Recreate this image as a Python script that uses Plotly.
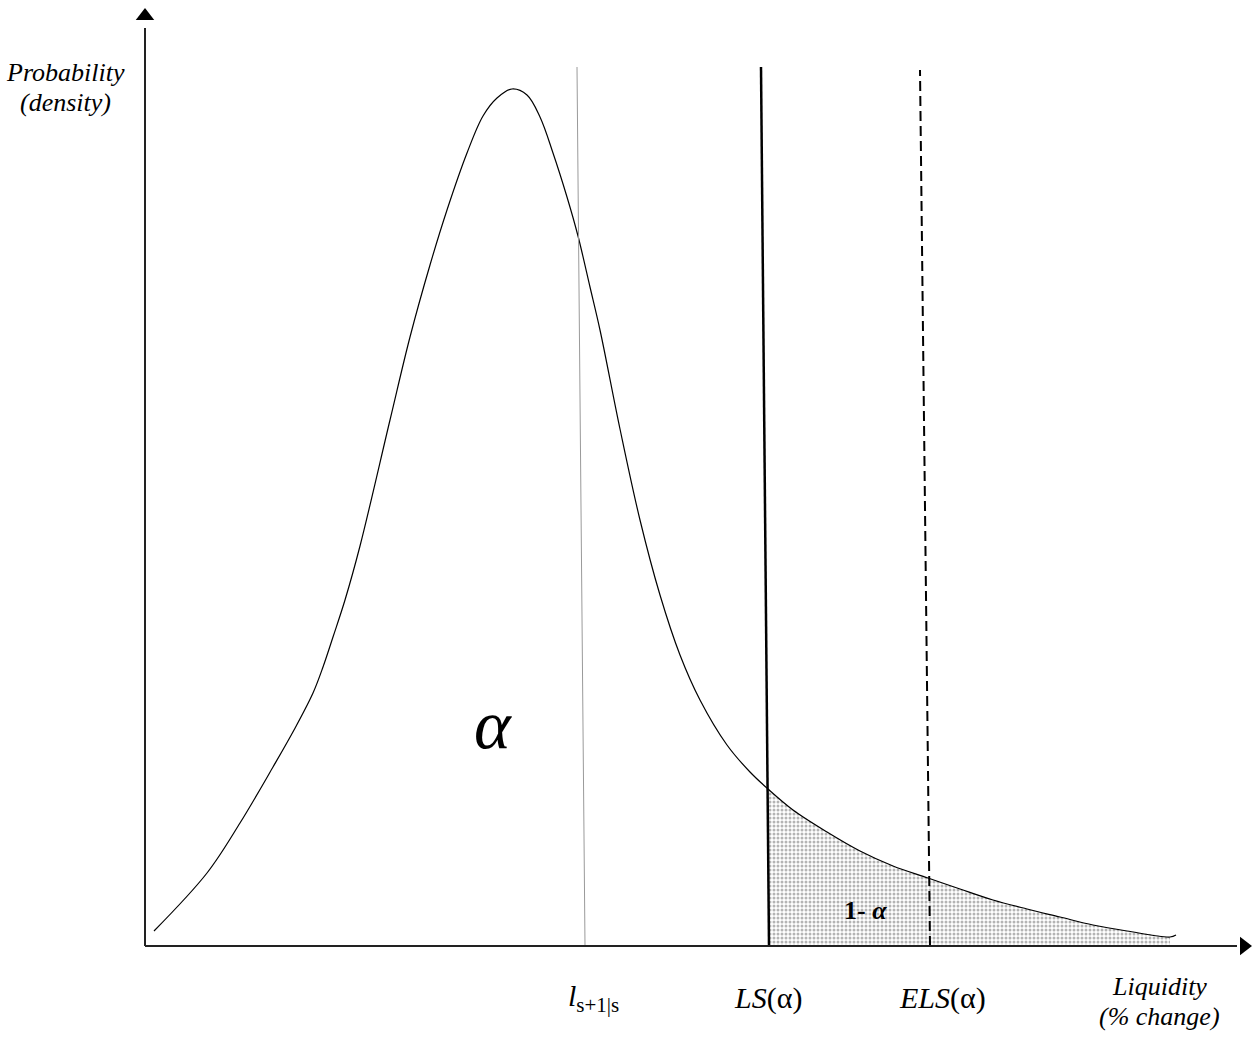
import numpy as np
import plotly.graph_objects as go

# ---- data (schematic density of liquidity change) ----
curve_x = [0.09, 0.62, 0.95, 1.28, 1.49, 1.68, 1.78, 1.88, 2.00, 2.15, 2.45, 2.65, 2.85, 3.02,
           3.22, 3.38, 3.52, 3.67, 3.82, 3.95, 4.08, 4.22, 4.33, 4.45, 4.55, 4.75, 4.95, 5.15,
           5.35, 5.55, 5.82, 6.05, 6.23, 6.48, 6.82, 7.15, 7.48, 7.83, 8.15, 8.48, 8.82, 9.15,
           9.48, 9.82, 10.25, 10.31]
curve_y = [0.015, 0.073, 0.123, 0.179, 0.216, 0.253, 0.279, 0.309, 0.346, 0.400, 0.526, 0.609,
           0.681, 0.736, 0.793, 0.830, 0.848, 0.857, 0.851, 0.829, 0.793, 0.749, 0.710, 0.659,
           0.616, 0.517, 0.426, 0.351, 0.291, 0.246, 0.201, 0.174, 0.157, 0.136, 0.114, 0.095,
           0.080, 0.068, 0.057, 0.046, 0.037, 0.029, 0.021, 0.015, 0.009, 0.011]

marker_names = ["l_s+1|s", "LS(alpha)", "ELS(alpha)"]
marker_x_bottom = [4.40, 6.24, 7.85]
marker_x_top = [4.32, 6.16, 7.75]
marker_y_top = [0.879, 0.879, 0.876]

x_axis_end = 11.07
y_axis_end = 0.938

FONT = "Liberation Serif, Times New Roman, serif"

fig = go.Figure()

cx = np.array(curve_x)
cy = np.array(curve_y)

# shaded tail (1 - alpha)
ls_b = marker_x_bottom[1]
mask = (cx >= 6.2) & (cx <= 10.25)
tail_x = [ls_b] + list(cx[mask]) + [cx[mask][-1], ls_b]
tail_y = [0.0] + list(cy[mask]) + [0.0, 0.0]
fig.add_trace(go.Scatter(
    x=tail_x, y=tail_y, mode="lines", fill="toself",
    line=dict(width=0, color="rgba(0,0,0,0)"),
    fillcolor="rgba(255,255,255,0)",
    fillpattern=dict(shape=".", fgcolor="#6a6a6a", bgcolor="white", size=4, solidity=0.45),
    hoverinfo="skip", showlegend=False))

# density curve
fig.add_trace(go.Scatter(x=curve_x, y=curve_y, mode="lines",
                         line=dict(color="black", width=1.2, shape="spline", smoothing=1.0),
                         hoverinfo="skip", showlegend=False))

# vertical markers
styles = [dict(color="#9a9a9a", width=1, dash="solid"),
          dict(color="black", width=2.5, dash="solid"),
          dict(color="black", width=2, dash="10px,5px")]
for xb, xt, yt, st in zip(marker_x_bottom, marker_x_top, marker_y_top, styles):
    fig.add_trace(go.Scatter(x=[xb, xt], y=[0, yt], mode="lines", line=st,
                             hoverinfo="skip", showlegend=False))

# axes with arrows
fig.add_trace(go.Scatter(x=[0, 0], y=[0, y_axis_end - 0.02], mode="lines",
                         line=dict(color="#222", width=2), hoverinfo="skip", showlegend=False))
fig.add_trace(go.Scatter(x=[0, x_axis_end - 0.15], y=[0, 0], mode="lines",
                         line=dict(color="#222", width=2), hoverinfo="skip", showlegend=False))
fig.add_trace(go.Scatter(x=[0], y=[y_axis_end - 0.008], mode="markers",
                         marker=dict(symbol="triangle-up", size=16, color="black"),
                         hoverinfo="skip", showlegend=False))
fig.add_trace(go.Scatter(x=[x_axis_end - 0.08], y=[0], mode="markers",
                         marker=dict(symbol="triangle-right", size=16, color="black"),
                         hoverinfo="skip", showlegend=False))

ann = [
    dict(x=-0.8, y=0.874, text="<i>Probability</i>", size=26),
    dict(x=-0.8, y=0.844, text="<i>(density)</i>", size=26),
    dict(x=3.48, y=0.222, text="<i>α</i>", size=70),
    dict(x=7.2, y=0.036, text="<b>1- <i>α</i></b>", size=26),
    dict(x=4.48, y=-0.052, text="<i>l</i><sub>s+1|s</sub>", size=30),
    dict(x=6.23, y=-0.052, text="<i>LS</i>(α)", size=30),
    dict(x=7.97, y=-0.052, text="<i>ELS</i>(α)", size=30),
    dict(x=10.14, y=-0.040, text="<i>Liquidity</i>", size=26),
    dict(x=10.14, y=-0.070, text="<i>(% change)</i>", size=26),
]
for a in ann:
    fig.add_annotation(x=a["x"], y=a["y"], text=a["text"], showarrow=False,
                       xanchor="center", yanchor="middle",
                       font=dict(family=FONT, size=a["size"], color="black"))

fig.update_xaxes(range=[-1.45, 11.08], visible=False, showgrid=False, zeroline=False)
fig.update_yaxes(range=[-0.092, 0.946], visible=False, showgrid=False, zeroline=False)
fig.update_layout(width=1253, height=1038, margin=dict(l=0, r=0, t=0, b=0),
                  plot_bgcolor="white", paper_bgcolor="white", showlegend=False)

fig.write_html("out.html", config={"displayModeBar": False},
               post_script="document.body.style.margin='0';")
